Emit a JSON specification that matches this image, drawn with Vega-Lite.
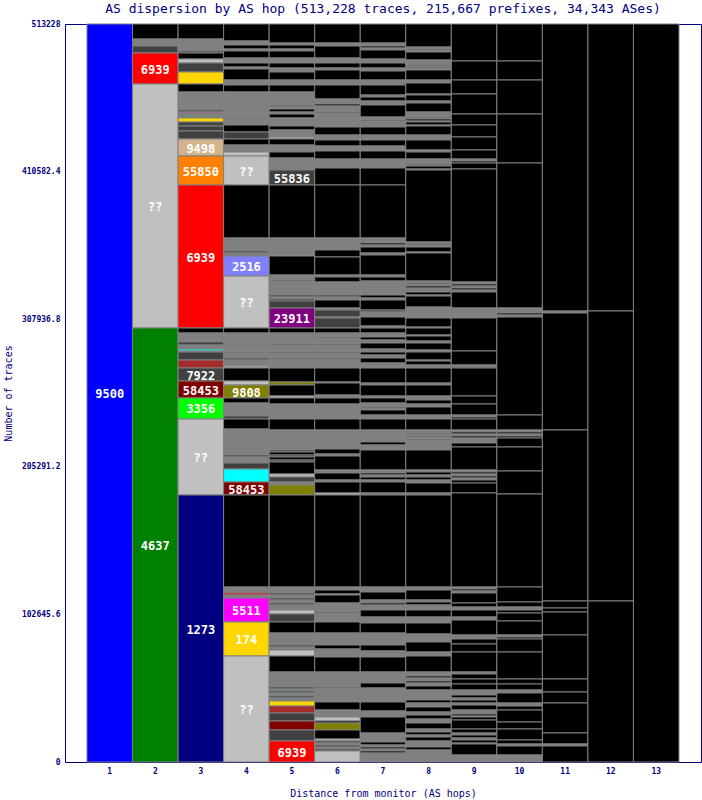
{
"$schema":"https://vega.github.io/schema/vega-lite/v6.json",
"width":636,"height":738,
"autosize":{"type":"none"},
"padding":{"left":65,"top":24,"right":1,"bottom":38},
"background":"white",
"title":{"text":"AS dispersion by AS hop (513,228 traces, 215,667 prefixes, 34,343 ASes)","font":"DejaVu Sans Mono","fontSize":13,"fontWeight":"normal","color":"#000080","anchor":"middle","frame":"group","offset":6,"dy":12,"baseline":"alphabetic"},
"config":{
 "view":{"stroke":"#000080","strokeWidth":1},
 "axisY":{"labelFont":"DejaVu Sans Mono","labelFontSize":8,"labelFontWeight":"bold","labelColor":"#000080","ticks":false,"tickSize":0,"domain":false,"grid":false,"labelPadding":5,"labelOverlap":false,"titleFont":"DejaVu Sans Mono","titleFontSize":10,"titleFontWeight":"normal","titleColor":"#000080","titleX":-57,"titleY":369,"titleAngle":-90,"titleAlign":"center","titleBaseline":"middle"},
 "axisX":{"labelFont":"DejaVu Sans Mono","labelFontSize":8,"labelFontWeight":"bold","labelColor":"#000080","ticks":false,"tickSize":0,"domain":false,"grid":false,"labelPadding":5,"labelAngle":0,"titleFont":"DejaVu Sans Mono","titleFontSize":10,"titleFontWeight":"normal","titleColor":"#000080","titleY":31,"titleBaseline":"middle"}
},
"data":{"values":[
{"h":1,"a":513228,"b":0,"c":"U","t":"9500","m":256614},
{"h":2,"a":513228,"b":502796,"c":"B"},
{"h":2,"a":502796,"b":497928,"c":"G"},
{"h":2,"a":497928,"b":493060,"c":"D"},
{"h":2,"a":493060,"b":471502,"c":"R","t":"6939","m":482281},
{"h":2,"a":471502,"b":301817,"c":"L","t":"??","m":386660},
{"h":2,"a":301817,"b":0,"c":"V","t":"4637","m":150909},
{"h":3,"a":513228,"b":502796,"c":"B"},
{"h":3,"a":502796,"b":494451,"c":"G"},
{"h":3,"a":494451,"b":493060,"c":"D"},
{"h":3,"a":493060,"b":488887,"c":"B"},
{"h":3,"a":488887,"b":486106,"c":"L"},
{"h":3,"a":486106,"b":479847,"c":"D"},
{"h":3,"a":479847,"b":471502,"c":"Y"},
{"h":3,"a":471502,"b":465938,"c":"B"},
{"h":3,"a":465938,"b":453420,"c":"G"},
{"h":3,"a":453420,"b":452029,"c":"D"},
{"h":3,"a":452029,"b":451334,"c":"M"},
{"h":3,"a":451334,"b":449248,"c":"G"},
{"h":3,"a":449248,"b":448552,"c":"E"},
{"h":3,"a":448552,"b":447857,"c":"G"},
{"h":3,"a":447857,"b":445075,"c":"Y"},
{"h":3,"a":445075,"b":442293,"c":"D"},
{"h":3,"a":442293,"b":438816,"c":"D"},
{"h":3,"a":438816,"b":433253,"c":"D"},
{"h":3,"a":433253,"b":421431,"c":"T","t":"9498","m":427342},
{"h":3,"a":421431,"b":401263,"c":"O","t":"55850","m":411347},
{"h":3,"a":401263,"b":301817,"c":"R","t":"6939","m":351540},
{"h":3,"a":301817,"b":298339,"c":"B"},
{"h":3,"a":298339,"b":292081,"c":"G"},
{"h":3,"a":292081,"b":289994,"c":"D"},
{"h":3,"a":289994,"b":287213,"c":"G"},
{"h":3,"a":287213,"b":285822,"c":"C"},
{"h":3,"a":285822,"b":285126,"c":"G"},
{"h":3,"a":285126,"b":279563,"c":"D"},
{"h":3,"a":279563,"b":273999,"c":"K"},
{"h":3,"a":273999,"b":264959,"c":"D","t":"7922","m":269479},
{"h":3,"a":264959,"b":253137,"c":"W","t":"58453","m":259048},
{"h":3,"a":253137,"b":238532,"c":"E","t":"3356","m":245835},
{"h":3,"a":238532,"b":185680,"c":"L","t":"??","m":212106},
{"h":3,"a":185680,"b":0,"c":"N","t":"1273","m":92840},
{"h":4,"a":513228,"b":501405,"c":"B"},
{"h":4,"a":501405,"b":498623,"c":"G"},
{"h":4,"a":498623,"b":495842,"c":"B"},
{"h":4,"a":495842,"b":494451,"c":"G"},
{"h":4,"a":494451,"b":489583,"c":"B"},
{"h":4,"a":489583,"b":486106,"c":"G"},
{"h":4,"a":486106,"b":483324,"c":"B"},
{"h":4,"a":483324,"b":481933,"c":"G"},
{"h":4,"a":481933,"b":474283,"c":"B"},
{"h":4,"a":474283,"b":470806,"c":"G"},
{"h":4,"a":470806,"b":465938,"c":"B"},
{"h":4,"a":465938,"b":447857,"c":"G"},
{"h":4,"a":447857,"b":447161,"c":"D"},
{"h":4,"a":447161,"b":442989,"c":"G"},
{"h":4,"a":442989,"b":438121,"c":"B"},
{"h":4,"a":438121,"b":433253,"c":"D"},
{"h":4,"a":433253,"b":429080,"c":"B"},
{"h":4,"a":429080,"b":424212,"c":"G"},
{"h":4,"a":424212,"b":421431,"c":"L"},
{"h":4,"a":421431,"b":401263,"c":"L","t":"??","m":411347},
{"h":4,"a":401263,"b":364405,"c":"B"},
{"h":4,"a":364405,"b":355365,"c":"G"},
{"h":4,"a":355365,"b":353974,"c":"D"},
{"h":4,"a":353974,"b":351888,"c":"G"},
{"h":4,"a":351888,"b":337979,"c":"P","t":"2516","m":344934},
{"h":4,"a":337979,"b":301817,"c":"L","t":"??","m":319898},
{"h":4,"a":301817,"b":298339,"c":"B"},
{"h":4,"a":298339,"b":289994,"c":"G"},
{"h":4,"a":289994,"b":289299,"c":"D"},
{"h":4,"a":289299,"b":285126,"c":"G"},
{"h":4,"a":285126,"b":284431,"c":"D"},
{"h":4,"a":284431,"b":280954,"c":"G"},
{"h":4,"a":280954,"b":279563,"c":"D"},
{"h":4,"a":279563,"b":275390,"c":"G"},
{"h":4,"a":275390,"b":273999,"c":"L"},
{"h":4,"a":273999,"b":264959,"c":"B"},
{"h":4,"a":264959,"b":262177,"c":"L"},
{"h":4,"a":262177,"b":253137,"c":"A","t":"9808","m":257657},
{"h":4,"a":253137,"b":249659,"c":"B"},
{"h":4,"a":249659,"b":240619,"c":"G"},
{"h":4,"a":240619,"b":238532,"c":"D"},
{"h":4,"a":238532,"b":231578,"c":"B"},
{"h":4,"a":231578,"b":219756,"c":"G"},
{"h":4,"a":219756,"b":219060,"c":"K"},
{"h":4,"a":219060,"b":213497,"c":"G"},
{"h":4,"a":213497,"b":212106,"c":"D"},
{"h":4,"a":212106,"b":207934,"c":"G"},
{"h":4,"a":207934,"b":203761,"c":"D"},
{"h":4,"a":203761,"b":194720,"c":"C"},
{"h":4,"a":194720,"b":185680,"c":"W","t":"58453","m":190200},
{"h":4,"a":185680,"b":121700,"c":"B"},
{"h":4,"a":121700,"b":117528,"c":"G"},
{"h":4,"a":117528,"b":116137,"c":"R"},
{"h":4,"a":116137,"b":114051,"c":"G"},
{"h":4,"a":114051,"b":97360,"c":"M","t":"5511","m":105706},
{"h":4,"a":97360,"b":73716,"c":"Y","t":"174","m":85538},
{"h":4,"a":73716,"b":0,"c":"L","t":"??","m":36858},
{"h":5,"a":513228,"b":500014,"c":"B"},
{"h":5,"a":500014,"b":498623,"c":"G"},
{"h":5,"a":498623,"b":495842,"c":"B"},
{"h":5,"a":495842,"b":494451,"c":"G"},
{"h":5,"a":494451,"b":489583,"c":"B"},
{"h":5,"a":489583,"b":486106,"c":"G"},
{"h":5,"a":486106,"b":482628,"c":"B"},
{"h":5,"a":482628,"b":479847,"c":"G"},
{"h":5,"a":479847,"b":474283,"c":"B"},
{"h":5,"a":474283,"b":470806,"c":"G"},
{"h":5,"a":470806,"b":465938,"c":"B"},
{"h":5,"a":465938,"b":456898,"c":"G"},
{"h":5,"a":456898,"b":456202,"c":"B"},
{"h":5,"a":456202,"b":454116,"c":"G"},
{"h":5,"a":454116,"b":452029,"c":"B"},
{"h":5,"a":452029,"b":450639,"c":"G"},
{"h":5,"a":450639,"b":447857,"c":"B"},
{"h":5,"a":447857,"b":442293,"c":"G"},
{"h":5,"a":442293,"b":439512,"c":"B"},
{"h":5,"a":439512,"b":434644,"c":"G"},
{"h":5,"a":434644,"b":433253,"c":"L"},
{"h":5,"a":433253,"b":429080,"c":"B"},
{"h":5,"a":429080,"b":424212,"c":"G"},
{"h":5,"a":424212,"b":420040,"c":"B"},
{"h":5,"a":420040,"b":411695,"c":"G"},
{"h":5,"a":411695,"b":401263,"c":"D","t":"55836","m":406479},
{"h":5,"a":401263,"b":364405,"c":"B"},
{"h":5,"a":364405,"b":352583,"c":"G"},
{"h":5,"a":352583,"b":351888,"c":"L"},
{"h":5,"a":351888,"b":338674,"c":"B"},
{"h":5,"a":338674,"b":335197,"c":"G"},
{"h":5,"a":335197,"b":334502,"c":"B"},
{"h":5,"a":334502,"b":324766,"c":"G"},
{"h":5,"a":324766,"b":323375,"c":"D"},
{"h":5,"a":323375,"b":321984,"c":"G"},
{"h":5,"a":321984,"b":320593,"c":"D"},
{"h":5,"a":320593,"b":315725,"c":"D"},
{"h":5,"a":315725,"b":301817,"c":"Q","t":"23911","m":308771},
{"h":5,"a":301817,"b":298339,"c":"B"},
{"h":5,"a":298339,"b":290690,"c":"G"},
{"h":5,"a":290690,"b":289994,"c":"B"},
{"h":5,"a":289994,"b":285126,"c":"G"},
{"h":5,"a":285126,"b":284431,"c":"B"},
{"h":5,"a":284431,"b":280954,"c":"G"},
{"h":5,"a":280954,"b":280258,"c":"B"},
{"h":5,"a":280258,"b":273999,"c":"G"},
{"h":5,"a":273999,"b":264263,"c":"B"},
{"h":5,"a":264263,"b":262177,"c":"A"},
{"h":5,"a":262177,"b":254527,"c":"B"},
{"h":5,"a":254527,"b":253137,"c":"L"},
{"h":5,"a":253137,"b":248964,"c":"B"},
{"h":5,"a":248964,"b":238532,"c":"G"},
{"h":5,"a":238532,"b":230883,"c":"B"},
{"h":5,"a":230883,"b":216974,"c":"G"},
{"h":5,"a":216974,"b":215583,"c":"D"},
{"h":5,"a":215583,"b":213497,"c":"B"},
{"h":5,"a":213497,"b":212106,"c":"D"},
{"h":5,"a":212106,"b":210020,"c":"B"},
{"h":5,"a":210020,"b":208629,"c":"D"},
{"h":5,"a":208629,"b":200284,"c":"B"},
{"h":5,"a":200284,"b":198198,"c":"L"},
{"h":5,"a":198198,"b":194720,"c":"D"},
{"h":5,"a":194720,"b":192634,"c":"G"},
{"h":5,"a":192634,"b":185680,"c":"A"},
{"h":5,"a":185680,"b":121700,"c":"B"},
{"h":5,"a":121700,"b":117528,"c":"G"},
{"h":5,"a":117528,"b":116137,"c":"D"},
{"h":5,"a":116137,"b":114051,"c":"G"},
{"h":5,"a":114051,"b":112660,"c":"D"},
{"h":5,"a":112660,"b":110573,"c":"G"},
{"h":5,"a":110573,"b":109183,"c":"D"},
{"h":5,"a":109183,"b":105705,"c":"G"},
{"h":5,"a":105705,"b":102924,"c":"L"},
{"h":5,"a":102924,"b":97360,"c":"D"},
{"h":5,"a":97360,"b":89710,"c":"B"},
{"h":5,"a":89710,"b":81365,"c":"G"},
{"h":5,"a":81365,"b":79974,"c":"D"},
{"h":5,"a":79974,"b":78584,"c":"G"},
{"h":5,"a":78584,"b":77888,"c":"D"},
{"h":5,"a":77888,"b":73716,"c":"L"},
{"h":5,"a":73716,"b":62589,"c":"B"},
{"h":5,"a":62589,"b":52157,"c":"G"},
{"h":5,"a":52157,"b":50766,"c":"D"},
{"h":5,"a":50766,"b":49376,"c":"G"},
{"h":5,"a":49376,"b":47985,"c":"D"},
{"h":5,"a":47985,"b":47289,"c":"C"},
{"h":5,"a":47289,"b":45898,"c":"G"},
{"h":5,"a":45898,"b":44508,"c":"D"},
{"h":5,"a":44508,"b":42421,"c":"G"},
{"h":5,"a":42421,"b":38944,"c":"Y"},
{"h":5,"a":38944,"b":34076,"c":"K"},
{"h":5,"a":34076,"b":28513,"c":"D"},
{"h":5,"a":28513,"b":22254,"c":"W"},
{"h":5,"a":22254,"b":14604,"c":"D"},
{"h":5,"a":14604,"b":0,"c":"R","t":"6939","m":7302},
{"h":6,"a":513228,"b":500014,"c":"B"},
{"h":6,"a":500014,"b":497928,"c":"G"},
{"h":6,"a":497928,"b":489583,"c":"B"},
{"h":6,"a":489583,"b":486106,"c":"G"},
{"h":6,"a":486106,"b":482628,"c":"B"},
{"h":6,"a":482628,"b":481238,"c":"G"},
{"h":6,"a":481238,"b":474283,"c":"B"},
{"h":6,"a":474283,"b":470806,"c":"G"},
{"h":6,"a":470806,"b":461070,"c":"B"},
{"h":6,"a":461070,"b":457593,"c":"G"},
{"h":6,"a":457593,"b":456202,"c":"B"},
{"h":6,"a":456202,"b":452029,"c":"G"},
{"h":6,"a":452029,"b":451334,"c":"B"},
{"h":6,"a":451334,"b":441598,"c":"G"},
{"h":6,"a":441598,"b":436035,"c":"B"},
{"h":6,"a":436035,"b":432557,"c":"G"},
{"h":6,"a":432557,"b":428385,"c":"B"},
{"h":6,"a":428385,"b":424908,"c":"G"},
{"h":6,"a":424908,"b":419344,"c":"B"},
{"h":6,"a":419344,"b":413085,"c":"G"},
{"h":6,"a":413085,"b":401263,"c":"B"},
{"h":6,"a":401263,"b":364405,"c":"B"},
{"h":6,"a":364405,"b":356060,"c":"G"},
{"h":6,"a":356060,"b":351192,"c":"B"},
{"h":6,"a":351192,"b":338674,"c":"B"},
{"h":6,"a":338674,"b":337284,"c":"G"},
{"h":6,"a":337284,"b":333806,"c":"B"},
{"h":6,"a":333806,"b":324766,"c":"G"},
{"h":6,"a":324766,"b":323375,"c":"D"},
{"h":6,"a":323375,"b":321289,"c":"G"},
{"h":6,"a":321289,"b":315725,"c":"B"},
{"h":6,"a":315725,"b":314334,"c":"G"},
{"h":6,"a":314334,"b":309466,"c":"D"},
{"h":6,"a":309466,"b":308771,"c":"G"},
{"h":6,"a":308771,"b":301817,"c":"D"},
{"h":6,"a":301817,"b":298339,"c":"B"},
{"h":6,"a":298339,"b":295558,"c":"G"},
{"h":6,"a":295558,"b":294862,"c":"B"},
{"h":6,"a":294862,"b":290690,"c":"G"},
{"h":6,"a":290690,"b":289994,"c":"B"},
{"h":6,"a":289994,"b":285126,"c":"G"},
{"h":6,"a":285126,"b":284431,"c":"B"},
{"h":6,"a":284431,"b":280954,"c":"G"},
{"h":6,"a":280954,"b":280258,"c":"B"},
{"h":6,"a":280258,"b":273999,"c":"G"},
{"h":6,"a":273999,"b":264263,"c":"B"},
{"h":6,"a":264263,"b":263568,"c":"G"},
{"h":6,"a":263568,"b":255223,"c":"B"},
{"h":6,"a":255223,"b":253137,"c":"G"},
{"h":6,"a":253137,"b":248964,"c":"B"},
{"h":6,"a":248964,"b":238532,"c":"G"},
{"h":6,"a":238532,"b":230883,"c":"B"},
{"h":6,"a":230883,"b":217670,"c":"G"},
{"h":6,"a":217670,"b":214192,"c":"B"},
{"h":6,"a":214192,"b":212802,"c":"G"},
{"h":6,"a":212802,"b":203066,"c":"B"},
{"h":6,"a":203066,"b":200979,"c":"G"},
{"h":6,"a":200979,"b":196111,"c":"B"},
{"h":6,"a":196111,"b":194720,"c":"G"},
{"h":6,"a":194720,"b":187071,"c":"B"},
{"h":6,"a":187071,"b":185680,"c":"L"},
{"h":6,"a":185680,"b":121700,"c":"B"},
{"h":6,"a":121700,"b":119614,"c":"G"},
{"h":6,"a":119614,"b":116832,"c":"B"},
{"h":6,"a":116832,"b":116137,"c":"L"},
{"h":6,"a":116137,"b":110573,"c":"B"},
{"h":6,"a":110573,"b":104314,"c":"G"},
{"h":6,"a":104314,"b":103619,"c":"B"},
{"h":6,"a":103619,"b":97360,"c":"G"},
{"h":6,"a":97360,"b":89710,"c":"B"},
{"h":6,"a":89710,"b":81365,"c":"G"},
{"h":6,"a":81365,"b":78584,"c":"B"},
{"h":6,"a":78584,"b":73020,"c":"G"},
{"h":6,"a":73020,"b":62589,"c":"B"},
{"h":6,"a":62589,"b":52157,"c":"G"},
{"h":6,"a":52157,"b":51462,"c":"B"},
{"h":6,"a":51462,"b":41726,"c":"G"},
{"h":6,"a":41726,"b":36162,"c":"B"},
{"h":6,"a":36162,"b":31294,"c":"G"},
{"h":6,"a":31294,"b":28513,"c":"L"},
{"h":6,"a":28513,"b":27122,"c":"B"},
{"h":6,"a":27122,"b":22254,"c":"A"},
{"h":6,"a":22254,"b":15995,"c":"B"},
{"h":6,"a":15995,"b":14604,"c":"L"},
{"h":6,"a":14604,"b":13213,"c":"D"},
{"h":6,"a":13213,"b":11822,"c":"G"},
{"h":6,"a":11822,"b":10431,"c":"D"},
{"h":6,"a":10431,"b":9041,"c":"G"},
{"h":6,"a":9041,"b":7650,"c":"D"},
{"h":6,"a":7650,"b":0,"c":"L"},
{"h":7,"a":513228,"b":500014,"c":"B"},
{"h":7,"a":500014,"b":497928,"c":"G"},
{"h":7,"a":497928,"b":496537,"c":"B"},
{"h":7,"a":496537,"b":495146,"c":"G"},
{"h":7,"a":495146,"b":488887,"c":"B"},
{"h":7,"a":488887,"b":486106,"c":"G"},
{"h":7,"a":486106,"b":482628,"c":"B"},
{"h":7,"a":482628,"b":480542,"c":"G"},
{"h":7,"a":480542,"b":474283,"c":"B"},
{"h":7,"a":474283,"b":470806,"c":"G"},
{"h":7,"a":470806,"b":463852,"c":"B"},
{"h":7,"a":463852,"b":462461,"c":"G"},
{"h":7,"a":462461,"b":459679,"c":"B"},
{"h":7,"a":459679,"b":456898,"c":"G"},
{"h":7,"a":456898,"b":448552,"c":"B"},
{"h":7,"a":448552,"b":446466,"c":"G"},
{"h":7,"a":446466,"b":445771,"c":"B"},
{"h":7,"a":445771,"b":441598,"c":"G"},
{"h":7,"a":441598,"b":436035,"c":"B"},
{"h":7,"a":436035,"b":432557,"c":"G"},
{"h":7,"a":432557,"b":428385,"c":"B"},
{"h":7,"a":428385,"b":424908,"c":"G"},
{"h":7,"a":424908,"b":419344,"c":"B"},
{"h":7,"a":419344,"b":413085,"c":"G"},
{"h":7,"a":413085,"b":401263,"c":"B"},
{"h":7,"a":401263,"b":364405,"c":"B"},
{"h":7,"a":364405,"b":360928,"c":"G"},
{"h":7,"a":360928,"b":359537,"c":"B"},
{"h":7,"a":359537,"b":358146,"c":"G"},
{"h":7,"a":358146,"b":353974,"c":"B"},
{"h":7,"a":353974,"b":352583,"c":"G"},
{"h":7,"a":352583,"b":338674,"c":"B"},
{"h":7,"a":338674,"b":337284,"c":"G"},
{"h":7,"a":337284,"b":334502,"c":"B"},
{"h":7,"a":334502,"b":324766,"c":"G"},
{"h":7,"a":324766,"b":322680,"c":"B"},
{"h":7,"a":322680,"b":321289,"c":"G"},
{"h":7,"a":321289,"b":314334,"c":"B"},
{"h":7,"a":314334,"b":312943,"c":"D"},
{"h":7,"a":312943,"b":309466,"c":"G"},
{"h":7,"a":309466,"b":303207,"c":"B"},
{"h":7,"a":303207,"b":301817,"c":"G"},
{"h":7,"a":301817,"b":298339,"c":"B"},
{"h":7,"a":298339,"b":295558,"c":"G"},
{"h":7,"a":295558,"b":293471,"c":"B"},
{"h":7,"a":293471,"b":291385,"c":"G"},
{"h":7,"a":291385,"b":287213,"c":"B"},
{"h":7,"a":287213,"b":285126,"c":"G"},
{"h":7,"a":285126,"b":283040,"c":"B"},
{"h":7,"a":283040,"b":280954,"c":"G"},
{"h":7,"a":280954,"b":277477,"c":"B"},
{"h":7,"a":277477,"b":273999,"c":"G"},
{"h":7,"a":273999,"b":263568,"c":"B"},
{"h":7,"a":263568,"b":262177,"c":"G"},
{"h":7,"a":262177,"b":254527,"c":"B"},
{"h":7,"a":254527,"b":253137,"c":"G"},
{"h":7,"a":253137,"b":249659,"c":"B"},
{"h":7,"a":249659,"b":246878,"c":"G"},
{"h":7,"a":246878,"b":246182,"c":"B"},
{"h":7,"a":246182,"b":244791,"c":"G"},
{"h":7,"a":244791,"b":241314,"c":"B"},
{"h":7,"a":241314,"b":238532,"c":"G"},
{"h":7,"a":238532,"b":230883,"c":"B"},
{"h":7,"a":230883,"b":222538,"c":"G"},
{"h":7,"a":222538,"b":220451,"c":"B"},
{"h":7,"a":220451,"b":216974,"c":"G"},
{"h":7,"a":216974,"b":203066,"c":"B"},
{"h":7,"a":203066,"b":200979,"c":"G"},
{"h":7,"a":200979,"b":199588,"c":"B"},
{"h":7,"a":199588,"b":198198,"c":"G"},
{"h":7,"a":198198,"b":196111,"c":"B"},
{"h":7,"a":196111,"b":194720,"c":"G"},
{"h":7,"a":194720,"b":187071,"c":"B"},
{"h":7,"a":187071,"b":185680,"c":"G"},
{"h":7,"a":185680,"b":121700,"c":"B"},
{"h":7,"a":121700,"b":118223,"c":"G"},
{"h":7,"a":118223,"b":112660,"c":"B"},
{"h":7,"a":112660,"b":110573,"c":"G"},
{"h":7,"a":110573,"b":109183,"c":"B"},
{"h":7,"a":109183,"b":105705,"c":"G"},
{"h":7,"a":105705,"b":100837,"c":"B"},
{"h":7,"a":100837,"b":96665,"c":"G"},
{"h":7,"a":96665,"b":89710,"c":"B"},
{"h":7,"a":89710,"b":81365,"c":"G"},
{"h":7,"a":81365,"b":77193,"c":"B"},
{"h":7,"a":77193,"b":73020,"c":"G"},
{"h":7,"a":73020,"b":62589,"c":"B"},
{"h":7,"a":62589,"b":54939,"c":"G"},
{"h":7,"a":54939,"b":51462,"c":"B"},
{"h":7,"a":51462,"b":41726,"c":"G"},
{"h":7,"a":41726,"b":35467,"c":"B"},
{"h":7,"a":35467,"b":31294,"c":"G"},
{"h":7,"a":31294,"b":20167,"c":"B"},
{"h":7,"a":20167,"b":13909,"c":"G"},
{"h":7,"a":13909,"b":11822,"c":"B"},
{"h":7,"a":11822,"b":10431,"c":"G"},
{"h":7,"a":10431,"b":9041,"c":"B"},
{"h":7,"a":9041,"b":7650,"c":"G"},
{"h":7,"a":7650,"b":6259,"c":"B"},
{"h":7,"a":6259,"b":0,"c":"G"},
{"h":8,"a":513228,"b":497232,"c":"B"},
{"h":8,"a":497232,"b":495842,"c":"G"},
{"h":8,"a":495842,"b":495146,"c":"B"},
{"h":8,"a":495146,"b":493755,"c":"G"},
{"h":8,"a":493755,"b":488192,"c":"B"},
{"h":8,"a":488192,"b":484715,"c":"G"},
{"h":8,"a":484715,"b":484019,"c":"B"},
{"h":8,"a":484019,"b":483324,"c":"G"},
{"h":8,"a":483324,"b":482628,"c":"B"},
{"h":8,"a":482628,"b":481238,"c":"G"},
{"h":8,"a":481238,"b":474283,"c":"B"},
{"h":8,"a":474283,"b":472197,"c":"G"},
{"h":8,"a":472197,"b":464547,"c":"B"},
{"h":8,"a":464547,"b":463852,"c":"G"},
{"h":8,"a":463852,"b":459679,"c":"B"},
{"h":8,"a":459679,"b":458288,"c":"G"},
{"h":8,"a":458288,"b":452029,"c":"B"},
{"h":8,"a":452029,"b":448552,"c":"G"},
{"h":8,"a":448552,"b":447857,"c":"B"},
{"h":8,"a":447857,"b":447161,"c":"G"},
{"h":8,"a":447161,"b":445771,"c":"B"},
{"h":8,"a":445771,"b":445075,"c":"G"},
{"h":8,"a":445075,"b":442989,"c":"B"},
{"h":8,"a":442989,"b":442293,"c":"G"},
{"h":8,"a":442293,"b":436035,"c":"B"},
{"h":8,"a":436035,"b":432557,"c":"G"},
{"h":8,"a":432557,"b":425603,"c":"B"},
{"h":8,"a":425603,"b":424212,"c":"G"},
{"h":8,"a":424212,"b":419344,"c":"B"},
{"h":8,"a":419344,"b":415867,"c":"G"},
{"h":8,"a":415867,"b":415172,"c":"B"},
{"h":8,"a":415172,"b":414476,"c":"G"},
{"h":8,"a":414476,"b":412390,"c":"B"},
{"h":8,"a":412390,"b":411695,"c":"G"},
{"h":8,"a":411695,"b":361624,"c":"B"},
{"h":8,"a":361624,"b":360233,"c":"G"},
{"h":8,"a":360233,"b":359537,"c":"B"},
{"h":8,"a":359537,"b":358146,"c":"G"},
{"h":8,"a":358146,"b":354669,"c":"B"},
{"h":8,"a":354669,"b":353974,"c":"G"},
{"h":8,"a":353974,"b":334502,"c":"B"},
{"h":8,"a":334502,"b":333111,"c":"G"},
{"h":8,"a":333111,"b":332416,"c":"B"},
{"h":8,"a":332416,"b":331025,"c":"G"},
{"h":8,"a":331025,"b":329634,"c":"B"},
{"h":8,"a":329634,"b":326852,"c":"G"},
{"h":8,"a":326852,"b":324766,"c":"B"},
{"h":8,"a":324766,"b":324070,"c":"G"},
{"h":8,"a":324070,"b":316421,"c":"B"},
{"h":8,"a":316421,"b":308771,"c":"G"},
{"h":8,"a":308771,"b":302512,"c":"B"},
{"h":8,"a":302512,"b":301817,"c":"G"},
{"h":8,"a":301817,"b":296949,"c":"B"},
{"h":8,"a":296949,"b":296253,"c":"G"},
{"h":8,"a":296253,"b":292776,"c":"B"},
{"h":8,"a":292776,"b":291385,"c":"G"},
{"h":8,"a":291385,"b":286517,"c":"B"},
{"h":8,"a":286517,"b":285126,"c":"G"},
{"h":8,"a":285126,"b":279563,"c":"B"},
{"h":8,"a":279563,"b":278867,"c":"G"},
{"h":8,"a":278867,"b":276086,"c":"B"},
{"h":8,"a":276086,"b":273999,"c":"G"},
{"h":8,"a":273999,"b":263568,"c":"B"},
{"h":8,"a":263568,"b":262177,"c":"G"},
{"h":8,"a":262177,"b":254527,"c":"B"},
{"h":8,"a":254527,"b":251746,"c":"G"},
{"h":8,"a":251746,"b":248964,"c":"B"},
{"h":8,"a":248964,"b":246878,"c":"G"},
{"h":8,"a":246878,"b":241314,"c":"B"},
{"h":8,"a":241314,"b":238532,"c":"G"},
{"h":8,"a":238532,"b":230883,"c":"B"},
{"h":8,"a":230883,"b":228796,"c":"G"},
{"h":8,"a":228796,"b":228101,"c":"B"},
{"h":8,"a":228101,"b":226710,"c":"G"},
{"h":8,"a":226710,"b":226015,"c":"B"},
{"h":8,"a":226015,"b":224624,"c":"G"},
{"h":8,"a":224624,"b":223928,"c":"B"},
{"h":8,"a":223928,"b":216974,"c":"G"},
{"h":8,"a":216974,"b":203066,"c":"B"},
{"h":8,"a":203066,"b":201675,"c":"G"},
{"h":8,"a":201675,"b":199588,"c":"B"},
{"h":8,"a":199588,"b":198198,"c":"G"},
{"h":8,"a":198198,"b":196111,"c":"B"},
{"h":8,"a":196111,"b":194025,"c":"G"},
{"h":8,"a":194025,"b":187071,"c":"B"},
{"h":8,"a":187071,"b":185680,"c":"G"},
{"h":8,"a":185680,"b":121700,"c":"B"},
{"h":8,"a":121700,"b":119614,"c":"G"},
{"h":8,"a":119614,"b":112660,"c":"B"},
{"h":8,"a":112660,"b":111269,"c":"G"},
{"h":8,"a":111269,"b":109183,"c":"B"},
{"h":8,"a":109183,"b":105705,"c":"G"},
{"h":8,"a":105705,"b":100837,"c":"B"},
{"h":8,"a":100837,"b":96665,"c":"G"},
{"h":8,"a":96665,"b":89015,"c":"B"},
{"h":8,"a":89015,"b":83452,"c":"G"},
{"h":8,"a":83452,"b":76497,"c":"B"},
{"h":8,"a":76497,"b":73716,"c":"G"},
{"h":8,"a":73716,"b":62589,"c":"B"},
{"h":8,"a":62589,"b":59807,"c":"G"},
{"h":8,"a":59807,"b":58416,"c":"B"},
{"h":8,"a":58416,"b":56330,"c":"G"},
{"h":8,"a":56330,"b":54939,"c":"B"},
{"h":8,"a":54939,"b":52853,"c":"G"},
{"h":8,"a":52853,"b":50071,"c":"B"},
{"h":8,"a":50071,"b":43117,"c":"G"},
{"h":8,"a":43117,"b":41030,"c":"B"},
{"h":8,"a":41030,"b":38249,"c":"G"},
{"h":8,"a":38249,"b":34771,"c":"B"},
{"h":8,"a":34771,"b":32685,"c":"G"},
{"h":8,"a":32685,"b":29903,"c":"B"},
{"h":8,"a":29903,"b":27122,"c":"G"},
{"h":8,"a":27122,"b":22949,"c":"B"},
{"h":8,"a":22949,"b":20863,"c":"G"},
{"h":8,"a":20863,"b":18777,"c":"B"},
{"h":8,"a":18777,"b":17386,"c":"G"},
{"h":8,"a":17386,"b":14604,"c":"B"},
{"h":8,"a":14604,"b":10431,"c":"G"},
{"h":8,"a":10431,"b":8345,"c":"B"},
{"h":8,"a":8345,"b":0,"c":"G"},
{"h":9,"a":513228,"b":487496,"c":"B"},
{"h":9,"a":487496,"b":474283,"c":"B"},
{"h":9,"a":474283,"b":464547,"c":"B"},
{"h":9,"a":464547,"b":450639,"c":"B"},
{"h":9,"a":450639,"b":442989,"c":"B"},
{"h":9,"a":442989,"b":434644,"c":"B"},
{"h":9,"a":434644,"b":425603,"c":"B"},
{"h":9,"a":425603,"b":419344,"c":"B"},
{"h":9,"a":419344,"b":417953,"c":"G"},
{"h":9,"a":417953,"b":416563,"c":"B"},
{"h":9,"a":416563,"b":412390,"c":"B"},
{"h":9,"a":412390,"b":333806,"c":"B"},
{"h":9,"a":333806,"b":332416,"c":"G"},
{"h":9,"a":332416,"b":331025,"c":"B"},
{"h":9,"a":331025,"b":329634,"c":"G"},
{"h":9,"a":329634,"b":328243,"c":"B"},
{"h":9,"a":328243,"b":326852,"c":"G"},
{"h":9,"a":326852,"b":315725,"c":"B"},
{"h":9,"a":315725,"b":308771,"c":"G"},
{"h":9,"a":308771,"b":285822,"c":"B"},
{"h":9,"a":285822,"b":276086,"c":"B"},
{"h":9,"a":276086,"b":274695,"c":"G"},
{"h":9,"a":274695,"b":273999,"c":"B"},
{"h":9,"a":273999,"b":254527,"c":"B"},
{"h":9,"a":254527,"b":248964,"c":"B"},
{"h":9,"a":248964,"b":241314,"c":"B"},
{"h":9,"a":241314,"b":239923,"c":"G"},
{"h":9,"a":239923,"b":238532,"c":"B"},
{"h":9,"a":238532,"b":230883,"c":"B"},
{"h":9,"a":230883,"b":229492,"c":"G"},
{"h":9,"a":229492,"b":228101,"c":"B"},
{"h":9,"a":228101,"b":226710,"c":"G"},
{"h":9,"a":226710,"b":225319,"c":"B"},
{"h":9,"a":225319,"b":221842,"c":"G"},
{"h":9,"a":221842,"b":219060,"c":"B"},
{"h":9,"a":219060,"b":203066,"c":"B"},
{"h":9,"a":203066,"b":201675,"c":"G"},
{"h":9,"a":201675,"b":200284,"c":"B"},
{"h":9,"a":200284,"b":198893,"c":"G"},
{"h":9,"a":198893,"b":197502,"c":"B"},
{"h":9,"a":197502,"b":196111,"c":"G"},
{"h":9,"a":196111,"b":194025,"c":"B"},
{"h":9,"a":194025,"b":187071,"c":"B"},
{"h":9,"a":187071,"b":121700,"c":"B"},
{"h":9,"a":121700,"b":120309,"c":"G"},
{"h":9,"a":120309,"b":118919,"c":"B"},
{"h":9,"a":118919,"b":117528,"c":"G"},
{"h":9,"a":117528,"b":110573,"c":"B"},
{"h":9,"a":110573,"b":107792,"c":"B"},
{"h":9,"a":107792,"b":105705,"c":"G"},
{"h":9,"a":105705,"b":100837,"c":"B"},
{"h":9,"a":100837,"b":98751,"c":"G"},
{"h":9,"a":98751,"b":88320,"c":"B"},
{"h":9,"a":88320,"b":85538,"c":"G"},
{"h":9,"a":85538,"b":82061,"c":"B"},
{"h":9,"a":82061,"b":76497,"c":"B"},
{"h":9,"a":76497,"b":62589,"c":"B"},
{"h":9,"a":62589,"b":61198,"c":"G"},
{"h":9,"a":61198,"b":57721,"c":"B"},
{"h":9,"a":57721,"b":54244,"c":"B"},
{"h":9,"a":54244,"b":50071,"c":"B"},
{"h":9,"a":50071,"b":46594,"c":"G"},
{"h":9,"a":46594,"b":44508,"c":"B"},
{"h":9,"a":44508,"b":43117,"c":"G"},
{"h":9,"a":43117,"b":41030,"c":"B"},
{"h":9,"a":41030,"b":39640,"c":"G"},
{"h":9,"a":39640,"b":36162,"c":"B"},
{"h":9,"a":36162,"b":33381,"c":"G"},
{"h":9,"a":33381,"b":31990,"c":"B"},
{"h":9,"a":31990,"b":31294,"c":"G"},
{"h":9,"a":31294,"b":29208,"c":"B"},
{"h":9,"a":29208,"b":22949,"c":"B"},
{"h":9,"a":22949,"b":20167,"c":"B"},
{"h":9,"a":20167,"b":18777,"c":"G"},
{"h":9,"a":18777,"b":16690,"c":"B"},
{"h":9,"a":16690,"b":15299,"c":"G"},
{"h":9,"a":15299,"b":13213,"c":"B"},
{"h":9,"a":13213,"b":12518,"c":"G"},
{"h":9,"a":12518,"b":4868,"c":"B"},
{"h":9,"a":4868,"b":0,"c":"G"},
{"h":10,"a":513228,"b":487496,"c":"B"},
{"h":10,"a":487496,"b":474283,"c":"B"},
{"h":10,"a":474283,"b":450639,"c":"B"},
{"h":10,"a":450639,"b":416563,"c":"B"},
{"h":10,"a":416563,"b":315725,"c":"B"},
{"h":10,"a":315725,"b":312248,"c":"G"},
{"h":10,"a":312248,"b":310857,"c":"B"},
{"h":10,"a":310857,"b":309466,"c":"G"},
{"h":10,"a":309466,"b":241314,"c":"B"},
{"h":10,"a":241314,"b":230883,"c":"B"},
{"h":10,"a":230883,"b":229492,"c":"G"},
{"h":10,"a":229492,"b":228101,"c":"B"},
{"h":10,"a":228101,"b":226710,"c":"G"},
{"h":10,"a":226710,"b":225319,"c":"B"},
{"h":10,"a":225319,"b":219060,"c":"B"},
{"h":10,"a":219060,"b":202370,"c":"B"},
{"h":10,"a":202370,"b":186375,"c":"B"},
{"h":10,"a":186375,"b":121700,"c":"B"},
{"h":10,"a":121700,"b":111269,"c":"B"},
{"h":10,"a":111269,"b":107792,"c":"B"},
{"h":10,"a":107792,"b":105705,"c":"G"},
{"h":10,"a":105705,"b":103619,"c":"B"},
{"h":10,"a":103619,"b":98056,"c":"B"},
{"h":10,"a":98056,"b":88320,"c":"B"},
{"h":10,"a":88320,"b":86929,"c":"G"},
{"h":10,"a":86929,"b":85538,"c":"B"},
{"h":10,"a":85538,"b":76497,"c":"B"},
{"h":10,"a":76497,"b":57721,"c":"B"},
{"h":10,"a":57721,"b":54244,"c":"B"},
{"h":10,"a":54244,"b":50071,"c":"B"},
{"h":10,"a":50071,"b":47985,"c":"G"},
{"h":10,"a":47985,"b":41030,"c":"B"},
{"h":10,"a":41030,"b":38944,"c":"G"},
{"h":10,"a":38944,"b":36162,"c":"B"},
{"h":10,"a":36162,"b":27817,"c":"B"},
{"h":10,"a":27817,"b":22949,"c":"B"},
{"h":10,"a":22949,"b":15299,"c":"B"},
{"h":10,"a":15299,"b":12518,"c":"B"},
{"h":10,"a":12518,"b":11127,"c":"G"},
{"h":10,"a":11127,"b":4868,"c":"B"},
{"h":10,"a":4868,"b":3477,"c":"G"},
{"h":10,"a":3477,"b":0,"c":"G"},
{"h":11,"a":513228,"b":313639,"c":"B"},
{"h":11,"a":313639,"b":312248,"c":"G"},
{"h":11,"a":312248,"b":230883,"c":"B"},
{"h":11,"a":230883,"b":111964,"c":"B"},
{"h":11,"a":111964,"b":107096,"c":"B"},
{"h":11,"a":107096,"b":104314,"c":"B"},
{"h":11,"a":104314,"b":88320,"c":"B"},
{"h":11,"a":88320,"b":57721,"c":"B"},
{"h":11,"a":57721,"b":48680,"c":"B"},
{"h":11,"a":48680,"b":41030,"c":"B"},
{"h":11,"a":41030,"b":20167,"c":"B"},
{"h":11,"a":20167,"b":12518,"c":"B"},
{"h":11,"a":12518,"b":11127,"c":"G"},
{"h":11,"a":11127,"b":0,"c":"B"},
{"h":12,"a":513228,"b":313639,"c":"B"},
{"h":12,"a":313639,"b":111964,"c":"B"},
{"h":12,"a":111964,"b":0,"c":"B"},
{"h":13,"a":513228,"b":0,"c":"B"}
]},
"encoding":{
 "x":{"field":"h","type":"ordinal","title":"Distance from monitor (AS hops)","scale":{"type":"band","paddingInner":0,"paddingOuter":0.483}}
},
"layer":[
 {"mark":{"type":"rect","stroke":"#808080","strokeWidth":1},
  "encoding":{
   "y":{"field":"a","type":"quantitative","title":"Number of traces","scale":{"domain":[0,513228],"nice":false,"zero":true},"axis":{"values":[0,102645.6,205291.2,307936.8,410582.4,513228],"labelExpr":"'' + datum.value"}},
   "y2":{"field":"b"},
   "fill":{"field":"c","type":"nominal","legend":null,"scale":{"domain":["B","G","D","L","R","Y","M","E","C","K","W","T","O","P","N","V","U","Q","A"],"range":["#000000","#808080","#404040","#c0c0c0","#ff0000","#ffd700","#ff00ff","#00ff00","#00ffff","#a52a2a","#800000","#d2b48c","#ff8000","#8080ff","#000080","#008000","#0000ff","#800080","#808000"]}}
  }},
 {"transform":[{"filter":"datum.t"}],
  "mark":{"type":"text","font":"DejaVu Sans Mono","fontWeight":"bold","fontSize":12,"color":"#ffffff","baseline":"middle","align":"center","dy":1},
  "encoding":{
   "y":{"field":"m","type":"quantitative","title":"Number of traces","scale":{"domain":[0,513228],"nice":false,"zero":true},"axis":{"values":[0,102645.6,205291.2,307936.8,410582.4,513228],"labelExpr":"'' + datum.value"}},
   "text":{"field":"t"}
  }}
]
}
